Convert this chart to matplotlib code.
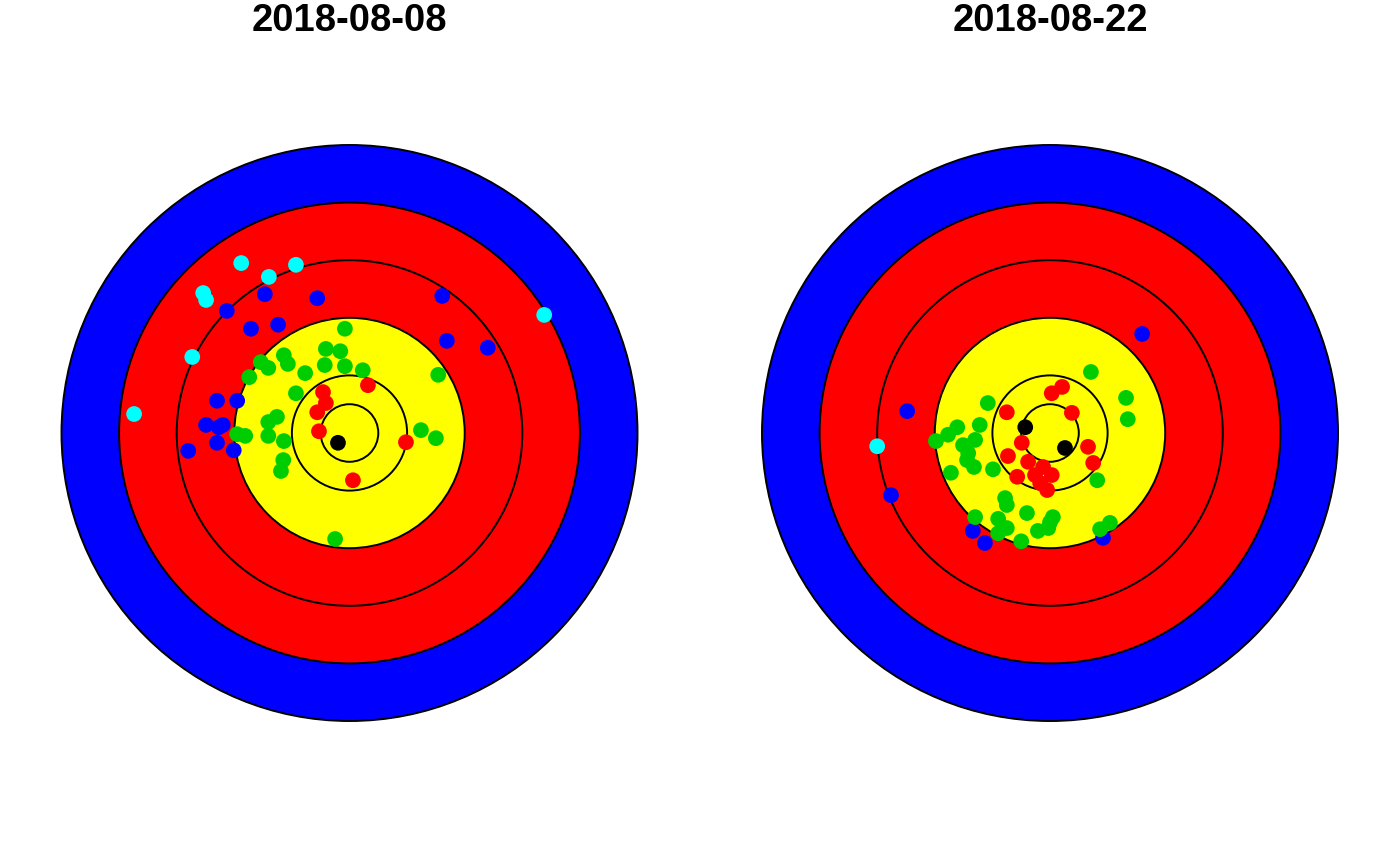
import matplotlib
matplotlib.use("Agg")
import matplotlib.pyplot as plt
from matplotlib.patches import Circle

# Target rings (radius, fill colour), drawn from outside in
ring_radii = [5, 4, 3, 2, 1, 0.5]
ring_colors = ["#0000FF", "#FF0000", "#FF0000", "#FFFF00", "#FFFF00", "#FFFF00"]

titles = ["2018-08-08", "2018-08-22"]

# Session 1 (2018-08-08) arrow positions, target units
s1_black_x = [-0.20]
s1_black_y = [-0.17]
s1_red_x = [-0.46, -0.41, -0.56, -0.53, 0.32, 0.98, 0.06]
s1_red_y = [0.71, 0.52, 0.36, 0.03, 0.83, -0.16, -0.82]
s1_green_x = [-0.08, -0.41, -0.16, -1.14, -1.54, -1.41, -1.07, -0.77, -0.43, -0.08,
              0.23, -1.74, -0.93, 1.54, -1.95, -1.81, -1.41, -1.26, -1.41, -1.14,
              -1.15, -1.19, -0.25, 1.24, 1.50]
s1_green_y = [1.81, 1.46, 1.42, 1.35, 1.23, 1.13, 1.20, 1.04, 1.18, 1.16,
              1.09, 0.97, 0.69, 1.01, -0.02, -0.05, 0.19, 0.28, -0.05, -0.14,
              -0.47, -0.66, -1.84, 0.05, -0.09]
s1_blue_x = [-1.47, -0.56, -2.13, -1.71, -1.24, -2.30, -1.95, -2.49, -2.27, -2.20,
             -2.30, -2.01, -2.80, 1.61, 1.69, 2.40]
s1_blue_y = [2.41, 2.34, 2.12, 1.81, 1.88, 0.56, 0.56, 0.14, 0.10, 0.14,
             -0.17, -0.30, -0.31, 2.38, 1.60, 1.48]
s1_cyan_x = [-1.88, -1.40, -0.93, -2.54, -2.49, -2.73, -3.74, 3.38]
s1_cyan_y = [2.95, 2.71, 2.92, 2.43, 2.31, 1.32, 0.33, 2.05]

# Session 2 (2018-08-22)
s2_black_x = [-0.43, 0.26]
s2_black_y = [0.10, -0.26]
s2_red_x = [0.03, 0.21, -0.75, 0.38, -0.49, -0.73, 0.66, 0.75, -0.38, -0.12,
            0.03, -0.26, -0.17, -0.05, -0.57]
s2_red_y = [0.69, 0.80, 0.36, 0.35, -0.17, -0.40, -0.24, -0.52, -0.50, -0.59,
            -0.73, -0.73, -0.87, -0.99, -0.76]
s2_green_x = [-1.08, -1.61, -1.77, -1.98, -1.22, -1.30, -1.51, -1.42, -1.44, -1.32,
              -1.72, -0.99, -0.78, -0.75, -1.30, -0.40, -0.90, -0.75, -0.90, -0.50,
              -0.21, -0.03, 0.05, 0.00, 0.87, 1.04, 0.82, 0.71, 1.32, 1.35]
s2_green_y = [0.52, 0.10, -0.03, -0.14, 0.14, -0.12, -0.21, -0.35, -0.47, -0.59,
              -0.69, -0.63, -1.13, -1.25, -1.46, -1.39, -1.49, -1.65, -1.74, -1.88,
              -1.70, -1.65, -1.46, -1.55, -1.67, -1.56, -0.82, 1.06, 0.61, 0.24]
s2_blue_x = [1.60, -2.48, -2.76, -1.34, -1.13, 0.92]
s2_blue_y = [1.72, 0.38, -1.08, -1.70, -1.91, -1.82]
s2_cyan_x = [-3.00]
s2_cyan_y = [-0.23]

sessions = [
    [(s1_cyan_x, s1_cyan_y, "#00FFFF"), (s1_blue_x, s1_blue_y, "#0000FF"),
     (s1_green_x, s1_green_y, "#00CD00"), (s1_red_x, s1_red_y, "#FF0000"),
     (s1_black_x, s1_black_y, "#000000")],
    [(s2_cyan_x, s2_cyan_y, "#00FFFF"), (s2_blue_x, s2_blue_y, "#0000FF"),
     (s2_green_x, s2_green_y, "#00CD00"), (s2_red_x, s2_red_y, "#FF0000"),
     (s2_black_x, s2_black_y, "#000000")],
]

W, H = 1400, 866
unit = 57.6          # pixels per target unit
centers_px = [349.5, 1050]

fig = plt.figure(figsize=(W / 100, H / 100), dpi=100)

for i, pts in enumerate(sessions):
    ax = fig.add_axes([i * 0.5, 0, 0.5, 1])
    cx = centers_px[i] - i * 700
    ax.set_xlim(-cx / unit, (700 - cx) / unit)
    ax.set_ylim(-(H / 2) / unit, (H / 2) / unit)
    ax.axis("off")

    for r, c in zip(ring_radii, ring_colors):
        ax.add_patch(Circle((0, 0), r, facecolor=c, edgecolor="black", linewidth=1.4))

    for xs, ys, col in pts:
        ax.scatter(xs, ys, s=128, color=col, edgecolors="none", zorder=3)

    fig.text(centers_px[i] / W, 1 - 21 / H, titles[i], ha="center", va="center",
             fontsize=27.5, fontweight="bold", family="Liberation Sans")

fig.savefig("out.png", dpi=100)
